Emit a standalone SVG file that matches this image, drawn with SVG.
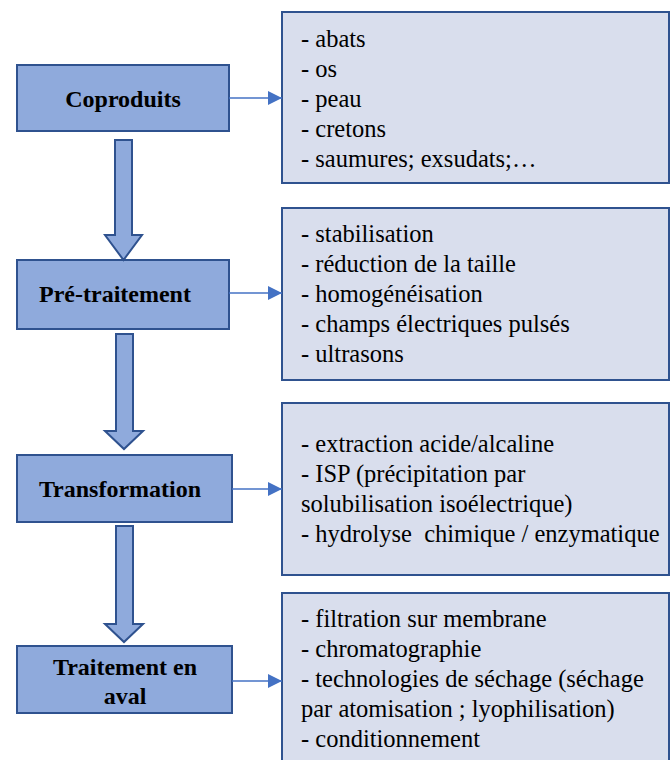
<svg xmlns="http://www.w3.org/2000/svg" width="670" height="760" viewBox="0 0 670 760">
<defs>
<marker id="ah" viewBox="0 0 10 10" refX="10" refY="5" markerWidth="14" markerHeight="14" markerUnits="userSpaceOnUse" orient="auto">
<path d="M0,0 L10,5 L0,10 Z" fill="#4472C4"/>
</marker>
</defs>

<g id="coproduits">
<rect x="17" y="65" width="212" height="66" fill="#8FAADC" stroke="#2F528F" stroke-width="2"/>
<text x="123" y="107" font-family="Liberation Serif" font-size="24" font-weight="bold" text-anchor="middle">Coproduits</text>
</g>
<g id="coproduits-details" font-family="Liberation Serif" font-size="24.5">
<rect x="282" y="12" width="387" height="171" fill="#D9DEED" stroke="#2F528F" stroke-width="2"/>
<text x="301" y="47">- abats</text>
<text x="301" y="77">- os</text>
<text x="301" y="107">- peau</text>
<text x="301" y="137">- cretons</text>
<text x="301" y="167">- saumures; exsudats;…</text>
</g>

<g id="pretraitement">
<rect x="17" y="260" width="212" height="69" fill="#8FAADC" stroke="#2F528F" stroke-width="2"/>
<text x="115" y="302" font-family="Liberation Serif" font-size="24" font-weight="bold" text-anchor="middle">Pré-traitement</text>
</g>
<g id="pretraitement-details" font-family="Liberation Serif" font-size="24.5">
<rect x="282" y="208" width="387" height="172" fill="#D9DEED" stroke="#2F528F" stroke-width="2"/>
<text x="301" y="242">- stabilisation</text>
<text x="301" y="272">- réduction de la taille</text>
<text x="301" y="302">- homogénéisation</text>
<text x="301" y="332">- champs électriques pulsés</text>
<text x="301" y="362">- ultrasons</text>
</g>

<g id="transformation">
<rect x="17" y="455" width="215" height="67" fill="#8FAADC" stroke="#2F528F" stroke-width="2"/>
<text x="120" y="497" font-family="Liberation Serif" font-size="24" font-weight="bold" text-anchor="middle">Transformation</text>
</g>
<g id="transformation-details" font-family="Liberation Serif" font-size="24.5">
<rect x="282" y="403" width="387" height="172" fill="#D9DEED" stroke="#2F528F" stroke-width="2"/>
<text x="301" y="452">- extraction acide/alcaline</text>
<text x="301" y="482">- ISP (précipitation par</text>
<text x="301" y="512">solubilisation isoélectrique)</text>
<text x="301" y="542" xml:space="preserve">- hydrolyse  chimique / enzymatique</text>
</g>

<g id="aval">
<rect x="17" y="646" width="215" height="67" fill="#8FAADC" stroke="#2F528F" stroke-width="2"/>
<text x="125" y="675" font-family="Liberation Serif" font-size="24" font-weight="bold" text-anchor="middle">Traitement en</text>
<text x="125" y="704" font-family="Liberation Serif" font-size="24" font-weight="bold" text-anchor="middle">aval</text>
</g>
<g id="aval-details" font-family="Liberation Serif" font-size="24.5">
<rect x="282" y="593" width="387" height="180" fill="#D9DEED" stroke="#2F528F" stroke-width="2"/>
<text x="301" y="627">- filtration sur membrane</text>
<text x="301" y="657">- chromatographie</text>
<text x="301" y="687">- technologies de séchage (séchage</text>
<text x="301" y="717">par atomisation ; lyophilisation)</text>
<text x="301" y="747">- conditionnement</text>
</g>

<g id="connectors">
<path d="M115,140 H132 V235 H142 L123.5,260 L105,235 H115 Z" fill="#8FAADC" stroke="#2F528F" stroke-width="2"/>
<path d="M116,334 H133 V431 H143 L124,449 L105,431 H116 Z" fill="#8FAADC" stroke="#2F528F" stroke-width="2"/>
<path d="M116,526 H133 V624 H143 L124,642 L105,624 H116 Z" fill="#8FAADC" stroke="#2F528F" stroke-width="2"/>
<line x1="229" y1="98" x2="282" y2="98" stroke="#4472C4" stroke-width="1.3" marker-end="url(#ah)"/>
<line x1="229" y1="293" x2="282" y2="293" stroke="#4472C4" stroke-width="1.3" marker-end="url(#ah)"/>
<line x1="232" y1="489" x2="282" y2="489" stroke="#4472C4" stroke-width="1.3" marker-end="url(#ah)"/>
<line x1="232" y1="681" x2="282" y2="681" stroke="#4472C4" stroke-width="1.3" marker-end="url(#ah)"/>
</g>
</svg>
